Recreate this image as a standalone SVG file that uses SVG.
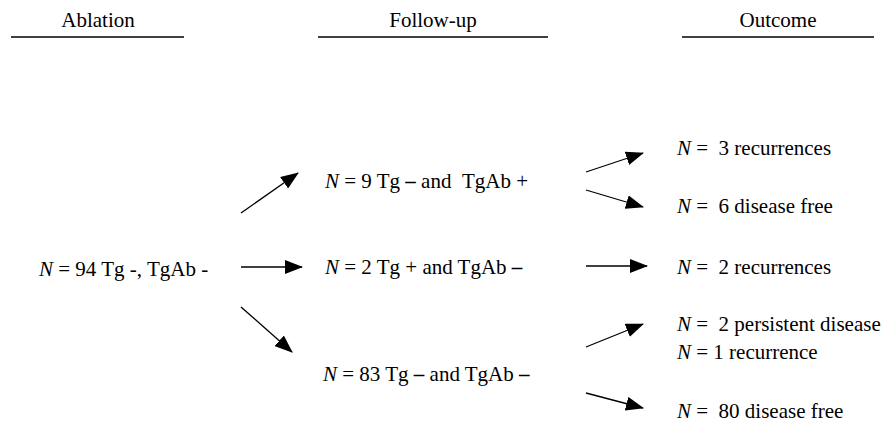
<svg xmlns="http://www.w3.org/2000/svg" width="885" height="423" viewBox="0 0 885 423">
<style>
.t{font-family:'Liberation Serif',serif;font-size:21px;fill:#000}
.i{font-style:italic}
.d{font-weight:bold}
.hdr{text-anchor:middle}
.rule{stroke:#000;stroke-width:1.4}
.arr{stroke:#000;stroke-width:1.3;fill:none;marker-end:url(#ah)}
</style>
<defs>
<marker id="ah" viewBox="0 0 18 14" refX="17" refY="7" markerWidth="18" markerHeight="14" markerUnits="userSpaceOnUse" orient="auto">
<path d="M0,0 L18,7 L0,14 Z" fill="#000"/>
</marker>
</defs>
<rect width="885" height="423" fill="#fff"/>
<g id="headers">
<text class="t hdr" x="98" y="27">Ablation</text>
<line class="rule" x1="11" y1="37" x2="184" y2="37"/>
<text class="t hdr" x="433" y="27">Follow-up</text>
<line class="rule" x1="318" y1="37" x2="548" y2="37"/>
<text class="t hdr" x="778" y="27">Outcome</text>
<line class="rule" x1="682" y1="37" x2="874" y2="37"/>
</g>
<g id="node-ablation"><text class="t" x="39" y="276"><tspan class="i">N</tspan> = 94 Tg -, TgAb -</text></g>
<g id="node-f1"><text class="t" x="325" y="188"><tspan class="i">N</tspan> = 9 Tg <tspan class="d">–</tspan> and &#160;TgAb +</text></g>
<g id="node-f2"><text class="t" x="325" y="274"><tspan class="i">N</tspan> = 2 Tg + and TgAb <tspan class="d">–</tspan></text></g>
<g id="node-f3"><text class="t" x="323" y="381"><tspan class="i">N</tspan> = 83 Tg <tspan class="d">–</tspan> and TgAb <tspan class="d">–</tspan></text></g>
<g id="node-o1"><text class="t" x="677" y="155"><tspan class="i">N</tspan> = &#160;3 recurrences</text></g>
<g id="node-o2"><text class="t" x="677" y="213"><tspan class="i">N</tspan> = &#160;6 disease free</text></g>
<g id="node-o3"><text class="t" x="677" y="274"><tspan class="i">N</tspan> = &#160;2 recurrences</text></g>
<g id="node-o4"><text class="t" x="677" y="331"><tspan class="i">N</tspan> = &#160;2 persistent disease</text><text class="t" x="677" y="359"><tspan class="i">N</tspan> = 1 recurrence</text></g>
<g id="node-o5"><text class="t" x="677" y="418"><tspan class="i">N</tspan> = &#160;80 disease free</text></g>
<g id="connectors">
<line class="arr" x1="241" y1="213" x2="298" y2="173"/>
<line class="arr" x1="241" y1="267" x2="302" y2="267"/>
<line class="arr" x1="241" y1="307" x2="292" y2="352"/>
<line class="arr" x1="586" y1="172" x2="643" y2="153"/>
<line class="arr" x1="586" y1="190" x2="643" y2="207"/>
<line class="arr" x1="586" y1="266" x2="647" y2="266"/>
<line class="arr" x1="586" y1="347" x2="643" y2="324"/>
<line class="arr" x1="586" y1="393" x2="643" y2="408"/>
</g>
</svg>
